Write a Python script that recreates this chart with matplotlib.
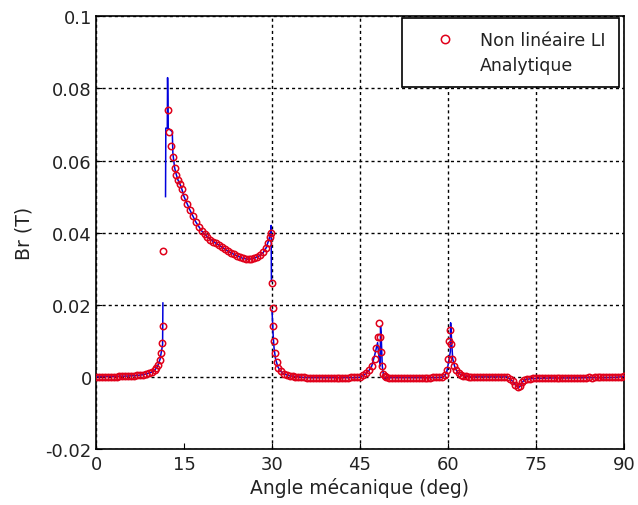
import numpy as np
import matplotlib
matplotlib.use("Agg")
import matplotlib.pyplot as plt
from matplotlib.lines import Line2D
from matplotlib.ticker import FuncFormatter

plt.rcParams["font.family"] = ["DejaVu Sans"]
plt.rcParams["axes.unicode_minus"] = False

nan = np.nan

# Non linéaire LI (red circles), by angular region
li_a1 = [0.0, 0.5, 1.0, 1.5, 2.0, 2.5, 3.0, 3.5, 4.0, 4.5, 5.0, 5.5, 6.0, 6.5, 7.0,
         7.5, 8.0, 8.5, 9.0, 9.5, 10.0, 10.3, 10.6, 10.9, 11.1, 11.3, 11.4, 11.45]
li_b1 = [0.0000, 0.0000, 0.0001, 0.0000, 0.0001, 0.0001, 0.0001, 0.0001, 0.0002,
         0.0002, 0.0002, 0.0002, 0.0003, 0.0003, 0.0004, 0.0005, 0.0006, 0.0008,
         0.0010, 0.0013, 0.0018, 0.0024, 0.0033, 0.0047, 0.0065, 0.0095, 0.0140, 0.0350]

li_a2 = [12.2, 12.5, 12.8, 13.1, 13.4, 13.7, 14.0, 14.3, 14.6, 15.0, 15.5, 16.0,
         16.5, 17.0, 17.5, 18.0, 18.5, 19.0, 19.5, 20.0, 20.5, 21.0, 21.5, 22.0,
         22.5, 23.0, 23.5, 24.0, 24.5, 25.0, 25.5, 26.0, 26.5, 27.0, 27.5, 28.0,
         28.5, 29.0, 29.3, 29.6, 29.8]
li_b2 = [0.0740, 0.0680, 0.0640, 0.0610, 0.0580, 0.0560, 0.0545, 0.0535, 0.0520,
         0.0500, 0.0480, 0.0463, 0.0447, 0.0430, 0.0417, 0.0405, 0.0396, 0.0388,
         0.0381, 0.0375, 0.0370, 0.0365, 0.0359, 0.0354, 0.0349, 0.0344, 0.0340,
         0.0336, 0.0332, 0.0329, 0.0327, 0.0326, 0.0327, 0.0329, 0.0332, 0.0337,
         0.0345, 0.0358, 0.0370, 0.0388, 0.0400]

li_a3 = [30.0, 30.1, 30.2, 30.3, 30.5, 30.8, 31.1, 31.5, 32.0, 32.5, 33.0, 33.5, 34.0]
li_b3 = [0.0260, 0.0190, 0.0140, 0.0100, 0.0065, 0.0040, 0.0025, 0.0015, 0.0009,
         0.0005, 0.0003, 0.0002, 0.0001]

li_a4 = [34.5, 35.0, 35.5, 36.0, 36.5, 37.0, 37.5, 38.0, 38.5, 39.0, 39.5, 40.0,
         40.5, 41.0, 41.5, 42.0, 42.5, 43.0, 43.5, 44.0, 44.5, 45.0]
li_b4 = [0.0001, 0.0000, -0.0001, -0.0002, -0.0002, -0.0003, -0.0002, -0.0002,
         -0.0003, -0.0002, -0.0002, -0.0003, -0.0002, -0.0002, -0.0003, -0.0002,
         -0.0002, -0.0002, -0.0001, -0.0001, -0.0001, -0.0001]

li_a5 = [45.5, 46.0, 46.5, 47.0, 47.5, 47.8, 48.0, 48.2, 48.4, 48.6, 48.8, 49.0, 49.2]
li_b5 = [0.0005, 0.0010, 0.0018, 0.0030, 0.0050, 0.0080, 0.0110, 0.0150, 0.0110,
         0.0070, 0.0030, 0.0008, 0.0003]

li_a6 = [49.5, 50.0, 50.5, 51.0, 51.5, 52.0, 52.5, 53.0, 53.5, 54.0, 54.5, 55.0,
         55.5, 56.0, 56.5, 57.0, 57.5, 58.0, 58.5, 59.0]
li_b6 = [0.0000, -0.0002, -0.0002, -0.0003, -0.0002, -0.0002, -0.0003, -0.0002,
         -0.0002, -0.0003, -0.0002, -0.0002, -0.0002, -0.0003, -0.0002, -0.0002,
         -0.0001, -0.0001, -0.0001, 0.0000]

li_a7 = [59.5, 59.8, 60.0, 60.2, 60.3, 60.5, 60.7, 61.0, 61.4, 61.8, 62.2, 62.6, 63.0]
li_b7 = [0.0005, 0.0020, 0.0050, 0.0100, 0.0130, 0.0090, 0.0050, 0.0030, 0.0018,
         0.0010, 0.0005, 0.0003, 0.0002]

li_a8 = [63.5, 64.0, 64.5, 65.0, 65.5, 66.0, 66.5, 67.0, 67.5, 68.0, 68.5, 69.0,
         69.5, 70.0]
li_b8 = [0.0001, 0.0001, 0.0000, 0.0000, 0.0000, 0.0001, 0.0000, 0.0000, 0.0000,
         0.0001, 0.0000, 0.0000, 0.0000, 0.0000]

li_a9 = [70.5, 71.0, 71.5, 72.0, 72.3, 72.6, 73.0, 73.5, 74.0]
li_b9 = [-0.0005, -0.0012, -0.0022, -0.0028, -0.0025, -0.0015, -0.0009, -0.0006, -0.0005]

li_a10 = [74.5, 75.0, 75.5, 76.0, 76.5, 77.0, 77.5, 78.0, 78.5, 79.0, 79.5, 80.0,
          80.5, 81.0, 81.5, 82.0, 82.5, 83.0, 83.5, 84.0, 84.5, 85.0, 85.5, 86.0,
          86.5, 87.0, 87.5, 88.0, 88.5, 89.0, 89.5, 90.0]
li_b10 = [-0.0004, -0.0004, -0.0004, -0.0004, -0.0003, -0.0004, -0.0003, -0.0003,
          -0.0003, -0.0003, -0.0003, -0.0002, -0.0003, -0.0002, -0.0002, -0.0002,
          -0.0002, -0.0002, -0.0002, -0.0001, -0.0002, -0.0001, -0.0001, -0.0001,
          -0.0001, -0.0001, 0.0000, 0.0000, 0.0000, 0.0000, 0.0001, 0.0003]

angle_li = (li_a1 + li_a2 + li_a3 + li_a4 + li_a5 + li_a6 + li_a7 + li_a8
            + li_a9 + li_a10)
b_li = (li_b1 + li_b2 + li_b3 + li_b4 + li_b5 + li_b6 + li_b7 + li_b8
        + li_b9 + li_b10)

# Analytique (blue line), three branches
ana_a1 = [0.0, 1.0, 2.0, 3.0, 4.0, 5.0, 6.0, 7.0, 8.0, 9.0, 9.5, 10.0, 10.5, 10.9,
          11.2, 11.35, 11.4]
ana_b1 = [0.0000, 0.0001, 0.0001, 0.0001, 0.0002, 0.0002, 0.0003, 0.0004, 0.0006,
          0.0010, 0.0013, 0.0018, 0.0030, 0.0048, 0.0075, 0.0090, 0.0205]

ana_a2 = [11.85, 11.9, 12.15, 12.2, 12.25, 12.3, 13.0, 13.1, 13.4, 13.7, 14.0, 14.5,
          15.0, 16.0, 17.0, 18.0, 19.0, 20.0, 21.0, 22.0, 23.0, 24.0, 25.0, 26.0,
          27.0, 28.0, 28.5, 29.0, 29.5, 29.8, 29.85, 29.9]
ana_b2 = [0.0500, 0.0690, 0.0690, 0.0830, 0.0770, 0.0690, 0.0680, 0.0620, 0.0580,
          0.0560, 0.0545, 0.0528, 0.0500, 0.0463, 0.0430, 0.0405, 0.0388, 0.0375,
          0.0365, 0.0354, 0.0344, 0.0336, 0.0329, 0.0326, 0.0329, 0.0337, 0.0345,
          0.0358, 0.0382, 0.0405, 0.0420, 0.0265]

ana_a3 = [30.0, 30.1, 30.2, 30.35, 30.6, 31.0, 31.5, 32.0, 33.0, 34.0, 35.0, 36.0,
          37.0, 38.0, 39.0, 40.0, 41.0, 42.0, 43.0, 44.0, 45.0, 45.5, 46.0, 46.5,
          47.0, 47.5, 48.0, 48.2, 48.45, 48.5, 48.6, 48.8, 49.1, 49.5, 50.0, 52.0,
          54.0, 56.0, 58.0, 59.0, 59.5, 59.8, 60.1, 60.4, 60.45, 60.55, 60.8, 61.2,
          61.7, 62.2, 63.0, 64.0, 66.0, 68.0, 70.0, 70.5, 71.0, 71.5, 72.0, 72.3,
          72.6, 73.0, 74.0, 75.0, 78.0, 81.0, 84.0, 87.0, 89.0, 90.0]
ana_b3 = [0.0185, 0.0150, 0.0115, 0.0080, 0.0050, 0.0028, 0.0015, 0.0008, 0.0003,
          0.0001, -0.0001, -0.0002, -0.0002, -0.0002, -0.0002, -0.0002, -0.0002,
          -0.0002, -0.0002, -0.0002, -0.0001, 0.0004, 0.0009, 0.0017, 0.0030, 0.0060,
          0.0095, 0.0060, 0.0030, 0.0140, 0.0120, 0.0030, -0.0007, -0.0003, -0.0002,
          -0.0002, -0.0002, -0.0002, -0.0002, -0.0001, 0.0004, 0.0015, 0.0040, 0.0070,
          0.0150, 0.0120, 0.0050, 0.0025, 0.0012, 0.0006, 0.0002, 0.0000, 0.0000,
          0.0000, 0.0000, -0.0005, -0.0012, -0.0022, -0.0030, -0.0026, -0.0016,
          -0.0009, -0.0005, -0.0004, -0.0003, -0.0003, -0.0002, -0.0002, -0.0001, 0.0002]

angle_ana = ana_a1 + [nan] + ana_a2 + [nan] + ana_a3
b_ana = ana_b1 + [nan] + ana_b2 + [nan] + ana_b3

xticks = [0, 15, 30, 45, 60, 75, 90]
yticks = [-0.02, 0, 0.02, 0.04, 0.06, 0.08, 0.1]

fig = plt.figure(figsize=(6.38, 5.06), dpi=100)
ax = fig.add_axes([0.1505, 0.1107, 0.8275, 0.855])

ax.plot(angle_ana, b_ana, color="#0000dd", lw=1.1, zorder=3)
ax.plot(angle_li, b_li, ls="none", marker="o", ms=4.6, mfc="none",
        mec="#e0001a", mew=1.1, zorder=4)

ax.set_xlim(0, 90)
ax.set_ylim(-0.02, 0.1)
ax.set_xticks(xticks)
ax.set_yticks(yticks)
ax.yaxis.set_major_formatter(FuncFormatter(lambda v, p: "%g" % round(v, 4)))
ax.tick_params(direction="in", length=4, labelsize=13, colors="black",
               labelcolor="#222222")
ax.tick_params(axis="x", pad=4)
ax.tick_params(axis="y", pad=3)
for s in ax.spines.values():
    s.set_linewidth(1.2)

ax.grid(True, color="black", linestyle=(0, (2.2, 2.2)), linewidth=1.0)
ax.xaxis.get_major_ticks()[1].gridline.set_visible(False)

ax.set_xlabel("Angle mécanique (deg)", fontsize=13.5, labelpad=3, color="#222222")
ax.set_ylabel("Br (T)", fontsize=13.5, labelpad=9, color="#222222")

handles = [
    Line2D([], [], ls="none", marker="o", ms=6, mfc="none", mec="#e0001a", mew=1.1),
    Line2D([], [], ls="none"),
]
leg = ax.legend(handles, ["Non linéaire LI", "Analytique"], loc="upper right",
                bbox_to_anchor=(0.99, 0.997), borderaxespad=0, fontsize=12.5,
                handlelength=3.5, handletextpad=0.25, borderpad=0.75,
                labelspacing=0.4, fancybox=False, framealpha=1, edgecolor="black")
leg.get_frame().set_linewidth(1.2)
for t in leg.get_texts():
    t.set_color("#222222")

fig.savefig("out.png", dpi=100)
